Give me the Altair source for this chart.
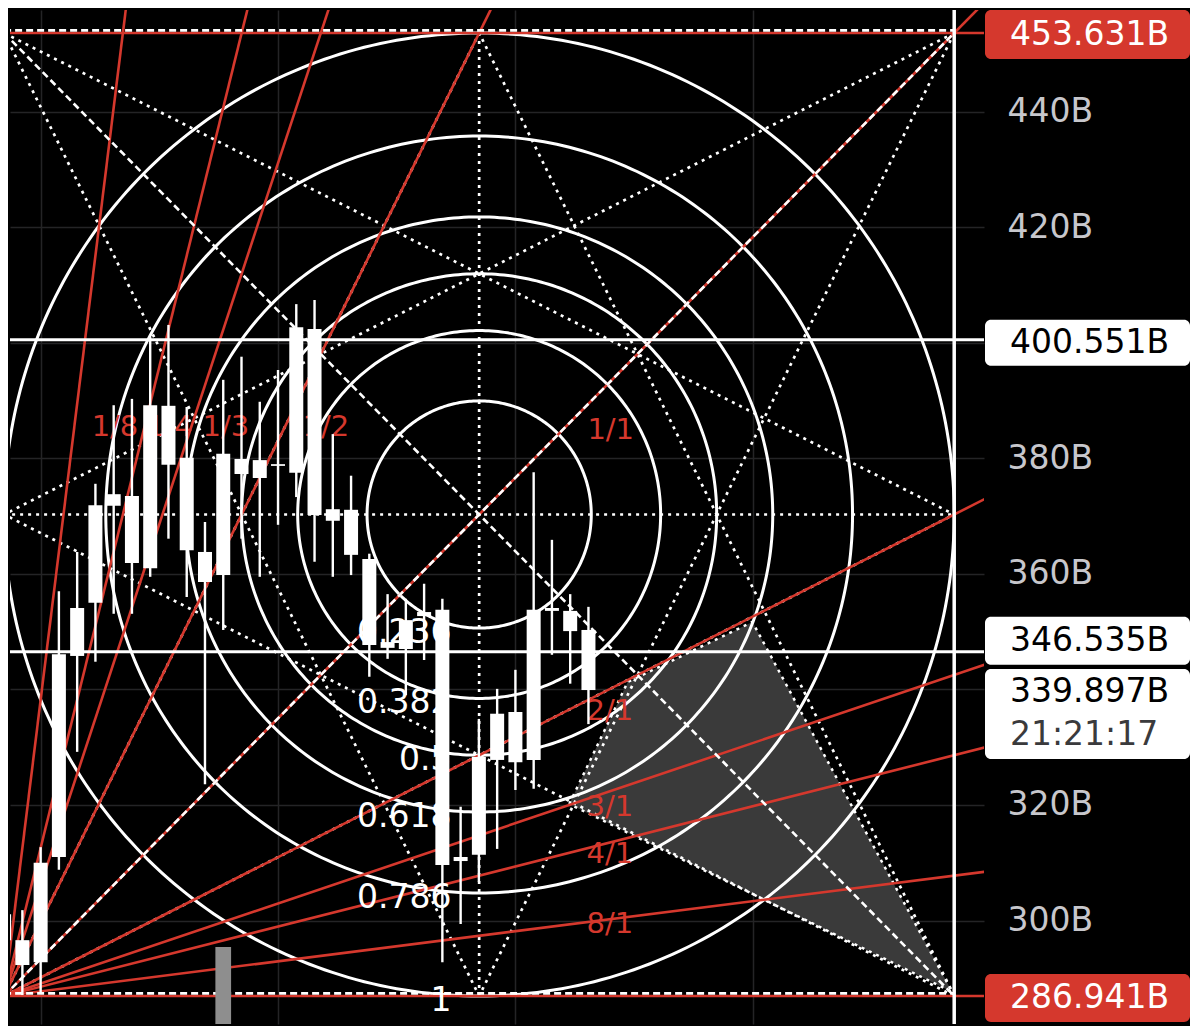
import altair as alt
import numpy as np
import pandas as pd

# ---------------- data ----------------
candle_index = list(range(33))
opens  = [296.6, 296.6, 292.8, 311.0, 345.8, 355.0, 371.8, 373.5, 361.0, 389.1, 380.1, 363.8, 359.8, 379.9, 376.6, 379.0, 377.5,
          402.4, 371.2, 371.1, 362.6, 347.2, 347.0, 352.7, 353.8, 310.3, 311.4, 327.8, 336.1, 327.8, 353.6, 353.6, 350.3]
highs  = [302.3, 301.8, 312.7, 357.0, 363.8, 375.6, 389.2, 390.3, 401.0, 403.1, 388.9, 369.0, 393.6, 397.6, 389.8, 395.3, 406.7,
          407.4, 384.2, 377.0, 363.5, 356.5, 355.7, 358.3, 355.7, 319.7, 334.9, 340.1, 343.4, 377.6, 365.9, 356.5, 354.3]
lows   = [286.9, 287.1, 287.6, 308.8, 329.2, 344.8, 353.1, 353.1, 359.5, 366.1, 356.0, 323.6, 350.3, 366.1, 359.5, 368.5, 373.3,
          362.1, 359.5, 359.8, 342.2, 345.3, 339.0, 345.1, 292.8, 299.4, 306.7, 312.4, 322.6, 322.8, 346.0, 341.0, 334.0]
closes = [301.1, 292.3, 310.0, 346.1, 354.1, 371.9, 373.8, 361.9, 389.2, 378.9, 364.1, 358.6, 380.8, 377.3, 379.7, 378.7, 402.7,
          370.2, 369.2, 363.3, 347.7, 348.2, 352.0, 353.4, 309.6, 311.0, 328.3, 335.8, 327.4, 353.8, 354.1, 350.1, 339.9]

# Gann box / Fibonacci circle anchors
box_low, box_high = 286.941, 453.631
box_left, box_right = 0.0, 52.03

fib_levels = [0.236, 0.382, 0.5, 0.618, 0.786, 1.0]
fib_texts = ["0.236", "0.382", "0.5", "0.618", "0.786", "1"]

fan_ratios = [8, 4, 3, 2, 1, 1 / 2, 1 / 3, 1 / 4, 1 / 8]
fan_names = ["1/8", "1/4", "1/3", "1/2", "1/1", "2/1", "3/1", "4/1", "8/1"]
fan_label_x = [6.07, 9.05, 12.14, 17.62, 33.22, 33.17, 33.17, 33.17, 33.17]
fan_label_y = [385.4, 385.4, 385.4, 385.4, 384.9, 336.3, 319.7, 311.5, 299.4]

h_levels = [400.551, 346.535]

tri_x = [30.95, 34.15, 40.98, 51.92]
tri_upper = [320.17, 341.29, 351.68, 287.63]

tag_texts = ["453.631B", "400.551B", "346.535B", "339.897B", "286.941B"]
tag_values = [453.631, 400.551, 346.535, 339.897, 286.941]
countdown = "21:21:17"

marker_x = 12
marker_top = 295.4

grid_x = [2, 15, 28, 41]
y_ticks = [300, 320, 340, 360, 380, 400, 420, 440]
hidden_ticks = [340, 400]   # covered by the price tags in the picture

# ---------------- layout ----------------
PW, PH = 974, 1014
X_DOM = [0.596, 53.388]
Y_DOM = [282.09, 457.615]
PPB = PH / (Y_DOM[1] - Y_DOM[0])
FONT = "DejaVu Sans"
RED = "#d5382d"

label_expr = " || ".join(f"datum.value == {v}" for v in hidden_ticks) + " ? '' : datum.value + 'B'"

XS = alt.Scale(domain=X_DOM, nice=False, zero=False)
YS = alt.Scale(domain=Y_DOM, nice=False, zero=False)
XA = alt.Axis(values=grid_x, labels=False, ticks=False, domain=False, grid=True,
              gridColor="#242426", gridWidth=1.5, title=None)
YA = alt.Axis(orient="right", values=y_ticks, labelExpr=label_expr, ticks=False, domain=False,
              grid=True, gridColor="#242426", gridWidth=1.5, labelColor="#c7c7cc", labelFontSize=33,
              labelFont=FONT, labelPadding=23, title=None)


def X(f):
    return alt.X(f, type="quantitative", scale=XS, axis=XA)


def Y(f):
    return alt.Y(f, type="quantitative", scale=YS, axis=YA)


W = box_right - box_left
H = box_high - box_low
cx, cy = (box_left + box_right) / 2, (box_low + box_high) / 2


def ux(u):
    return box_left + u * W


def vy(v):
    return box_low + v * H


# triangle area
tri_df = pd.DataFrame({"x": tri_x, "up": tri_upper,
                       "lo": np.interp(tri_x, [tri_x[0], tri_x[-1]], [tri_upper[0], tri_upper[-1]])})
tri = alt.Chart(tri_df).mark_area(color="#3a3a3a", opacity=1, clip=True).encode(
    x=X("x"), y=Y("up"), y2=alt.Y2("lo"))

# circles
t = np.linspace(0, 2 * np.pi, 361)
circ_rows = []
for j, f in enumerate(fib_levels):
    for k, tt in enumerate(t):
        circ_rows.append({"cid": j, "k": k, "x": cx + f * W / 2 * np.cos(tt), "y": cy + f * H / 2 * np.sin(tt)})
circles = alt.Chart(pd.DataFrame(circ_rows)).mark_line(color="white", strokeWidth=3, clip=True).encode(
    x=X("x"), y=Y("y"), detail="cid:N", order="k:Q")


def seg_df(segs):
    rows = []
    for s, ((u1, v1), (u2, v2)) in enumerate(segs):
        rows.append({"sid": s, "k": 0, "x": ux(u1), "y": vy(v1)})
        rows.append({"sid": s, "k": 1, "x": ux(u2), "y": vy(v2)})
    return pd.DataFrame(rows)


star = [((0, .5), (1, .5)), ((.5, 0), (.5, 1)),
        ((0, 1), (.5, 0)), ((0, 1), (1, .5)),
        ((1, 1), (.5, 0)), ((1, 1), (0, .5)),
        ((0, 0), (.5, 1)), ((0, 0), (1, .5)),
        ((1, 0), (.5, 1)), ((1, 0), (0, .5))]
dotted = alt.Chart(seg_df(star)).mark_line(color="white", strokeWidth=2.7, strokeDash=[3, 5], clip=True).encode(
    x=X("x"), y=Y("y"), detail="sid:N", order="k:Q")

# triangle outline (dotted)
tri_outline_rows = []
pts = [(tri_x[0], tri_upper[0]), (tri_x[1], tri_upper[1]), (tri_x[2], tri_upper[2]), (tri_x[3], tri_upper[3]),
       (tri_x[0], tri_upper[0])]
for k, (a, b) in enumerate(pts):
    tri_outline_rows.append({"k": k, "x": a, "y": b})
tri_outline = alt.Chart(pd.DataFrame(tri_outline_rows)).mark_line(
    color="white", strokeWidth=2.5, strokeDash=[3, 5], clip=True).encode(x=X("x"), y=Y("y"), order="k:Q")

# red fan lines
fan_rows = []
for s, r in enumerate(fan_ratios):
    slope = r * H / W
    fan_rows.append({"sid": s, "k": 0, "x": box_left, "y": box_low})
    fan_rows.append({"sid": s, "k": 1, "x": box_left + 60, "y": box_low + slope * 60})
for s, lev in enumerate([box_low, box_high]):
    fan_rows.append({"sid": 100 + s, "k": 0, "x": -5, "y": lev})
    fan_rows.append({"sid": 100 + s, "k": 1, "x": 60, "y": lev})
fan = alt.Chart(pd.DataFrame(fan_rows)).mark_line(color=RED, strokeWidth=2.6, clip=True).encode(
    x=X("x"), y=Y("y"), detail="sid:N", order="k:Q")

# white dashed diagonals and box edges
dash_rows = []
for s, ((x1, y1), (x2, y2)) in enumerate([
        ((box_left, box_high), (box_right, box_low)),
        ((box_left, box_low), (box_right, box_high)),
        ((box_left, box_high + 0.45), (box_right, box_high + 0.45)),
        ((box_left, box_low + 0.45), (box_right, box_low + 0.45))]):
    dash_rows.append({"sid": s, "k": 0, "x": x1, "y": y1})
    dash_rows.append({"sid": s, "k": 1, "x": x2, "y": y2})
dashed = alt.Chart(pd.DataFrame(dash_rows)).mark_line(color="white", strokeWidth=2.6, strokeDash=[7, 4],
                                                      clip=True).encode(
    x=X("x"), y=Y("y"), detail="sid:N", order="k:Q")

# solid white horizontal levels and vertical line
hl = alt.Chart(pd.DataFrame({"y": h_levels})).mark_rule(color="white", strokeWidth=3).encode(y=Y("y"))
vl = alt.Chart(pd.DataFrame({"x": [box_right]})).mark_rule(color="white", strokeWidth=3.5).encode(x=X("x"))

# fib labels
fib_df = pd.DataFrame({"t": fib_texts, "x": [24.5] * len(fib_levels),
                       "y": [cy - f * H / 2 for f in fib_levels]})
fib_lbl = alt.Chart(fib_df).mark_text(align="right", baseline="middle", dy=5, font=FONT, fontSize=33,
                                      color="white").encode(x=X("x"), y=Y("y"), text="t:N")

# fan labels
fan_df = pd.DataFrame({"t": fan_names, "x": fan_label_x, "y": fan_label_y})
fan_lbl = alt.Chart(fan_df).mark_text(align="center", baseline="middle", font=FONT, fontSize=29,
                                      color=RED).encode(x=X("x"), y=Y("y"), text="t:N")

# gray marker bar
mk_df = pd.DataFrame({"x": [marker_x - 0.43], "x2": [marker_x + 0.43], "y": [marker_top], "y2": [Y_DOM[0] - 5]})
marker = alt.Chart(mk_df).mark_rect(color="#8e8e8e", clip=True).encode(
    x=X("x"), x2=alt.X2("x2"), y=Y("y"), y2=alt.Y2("y2"))

# candles
cdf = pd.DataFrame({"i": candle_index, "o": opens, "h": highs, "l": lows, "c": closes})
cdf["bt"] = cdf[["o", "c"]].max(axis=1)
cdf["bb"] = cdf[["o", "c"]].min(axis=1)
wicks = alt.Chart(cdf).mark_rule(color="white", strokeWidth=2.4, clip=True).encode(
    x=X("i"), y=Y("l"), y2=alt.Y2("h"))
bodies = alt.Chart(cdf).mark_bar(color="white", size=14, clip=True).encode(
    x=X("i"), y=Y("bb"), y2=alt.Y2("bt"))

# right-hand price tags
tag_off = [1.5, 3, -11, 24, 2]
tag_half = [24.5, 23, 24, 45, 24]
tag_fill = [RED, "white", "white", "white", RED]
tag_tc = ["white", "black", "black", "black", "white"]
tag_rows, txt_rows = [], []
for v, off, hh, fl, tc, tx in zip(tag_values, tag_off, tag_half, tag_fill, tag_tc, tag_texts):
    ctr = v - off / PPB
    tag_rows.append({"top": ctr + hh / PPB, "bot": ctr - hh / PPB, "fill": fl})
    ty = v - 2 / PPB if tx == "339.897B" else ctr
    txt_rows.append({"ty": ty, "tc": tc, "label": tx})
txt_rows.append({"ty": tag_values[3] - 45 / PPB, "tc": "#3a3a3c", "label": countdown})
tags = alt.Chart(pd.DataFrame(tag_rows)).mark_rect(cornerRadius=6).encode(
    x=alt.value(975), x2=alt.value(1180), y=Y("top"), y2=alt.Y2("bot"), fill=alt.Color("fill:N", scale=None))
tag_txt = alt.Chart(pd.DataFrame(txt_rows)).mark_text(align="left", baseline="middle", font=FONT,
                                                      fontSize=33).encode(
    x=alt.value(1000), y=Y("ty"), text="label:N", color=alt.Color("tc:N", scale=None))

chart = alt.layer(tri, circles, dotted, tri_outline, fan, dashed, hl, vl, fib_lbl, fan_lbl, marker,
                  wicks, bodies, tags, tag_txt).properties(
    width=PW, height=PH, padding=0, background="#000000").configure_view(stroke=None)

chart.save("out.html", embed_options={"renderer": "svg", "actions": False})
